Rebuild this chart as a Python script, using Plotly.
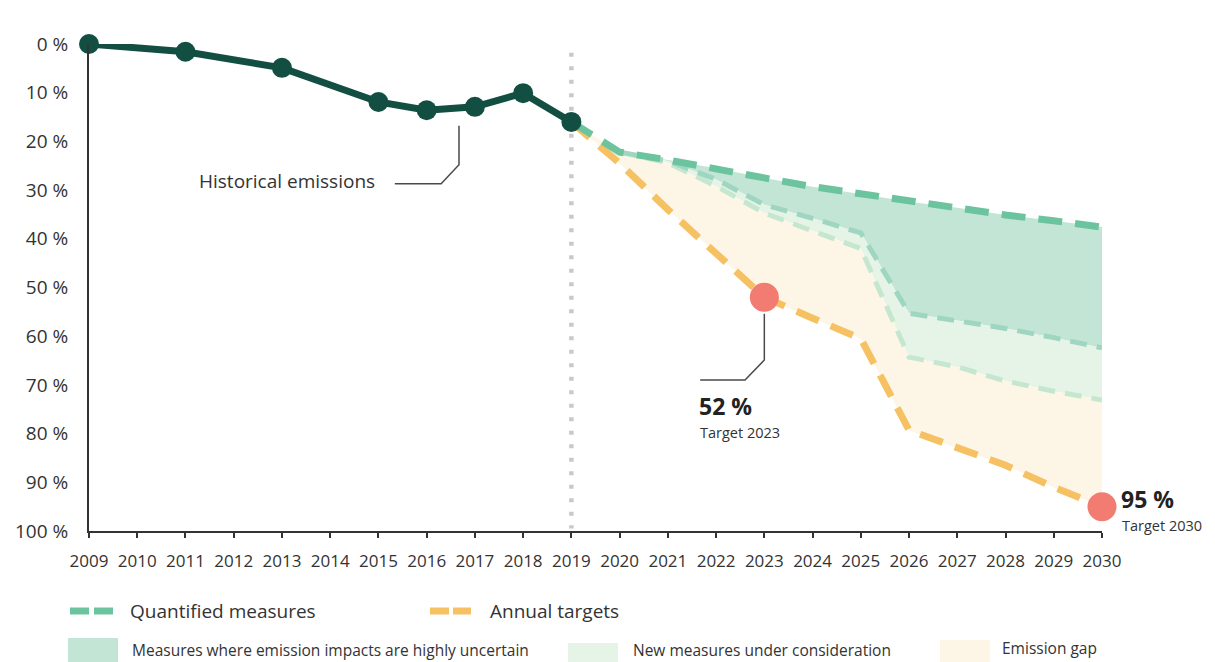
import plotly.graph_objects as go

# ---------------- data ----------------
hist_years = [2009, 2011, 2013, 2015, 2016, 2017, 2018, 2019]
hist_vals = [0, 1.6, 4.9, 11.9, 13.6, 12.9, 10.1, 16.0]

proj_years = [2019, 2020, 2021, 2022, 2023, 2024, 2025, 2026, 2027, 2028, 2029, 2030]
quantified = [16.0, 22.2, 23.8, 25.5, 27.5, 29.3, 30.8, 32.4, 33.6, 35.1, 36.3, 37.6]
uncertain = [16.0, 22.2, 24.0, 27.8, 33.0, 35.8, 38.8, 55.3, 56.8, 58.4, 60.3, 62.4]
new_measures = [16.0, 22.2, 24.4, 29.2, 34.7, 38.4, 42.0, 64.3, 66.3, 69.2, 71.3, 73.1]
annual_targets = [16.0, 24.5, 34.0, 43.0, 52.0, 56.3, 60.5, 79.3, 83.0, 86.5, 91.0, 95.0]

target_years = [2023, 2030]
target_vals = [52, 95]

x_ticks = list(range(2009, 2031))
y_ticks = list(range(0, 101, 10))
y_ticktext = [f"{v} %" for v in y_ticks]

# ---------------- style ----------------
FONT = "Open Sans"
TXT = "#333333"
C_HIST = "#124f42"
C_QUANT = "#6cc49e"
C_UNC_LINE = "#9fd6c1"
C_NEW_LINE = "#c6e7cf"
C_ANNUAL = "#f6c163"
C_FILL_UNC = "#c3e5d6"
C_FILL_NEW = "#e6f4e8"
C_FILL_GAP = "#fdf6e7"
C_TARGET = "#f27b72"

fig = go.Figure()

# fills (stacked with tonexty)
fig.add_trace(go.Scatter(x=proj_years, y=quantified, mode="lines",
                         line=dict(width=0, color=C_QUANT), showlegend=False, hoverinfo="skip"))
fig.add_trace(go.Scatter(x=proj_years, y=uncertain, mode="lines", fill="tonexty",
                         fillcolor=C_FILL_UNC, line=dict(width=0), showlegend=False, hoverinfo="skip"))
fig.add_trace(go.Scatter(x=proj_years, y=new_measures, mode="lines", fill="tonexty",
                         fillcolor=C_FILL_NEW, line=dict(width=0), showlegend=False, hoverinfo="skip"))
fig.add_trace(go.Scatter(x=proj_years, y=annual_targets, mode="lines", fill="tonexty",
                         fillcolor=C_FILL_GAP, line=dict(width=0), showlegend=False, hoverinfo="skip"))

# dashed lines
fig.add_trace(go.Scatter(x=proj_years[1:], y=new_measures[1:], mode="lines",
                         line=dict(color=C_NEW_LINE, width=5, dash="17px,10px"),
                         showlegend=False, cliponaxis=False))
fig.add_trace(go.Scatter(x=proj_years[1:], y=uncertain[1:], mode="lines",
                         line=dict(color=C_UNC_LINE, width=5, dash="17px,10px"),
                         showlegend=False, cliponaxis=False))
fig.add_trace(go.Scatter(x=proj_years, y=annual_targets, mode="lines",
                         line=dict(color=C_ANNUAL, width=7, dash="24px,13px"),
                         showlegend=False, cliponaxis=False))
fig.add_trace(go.Scatter(x=proj_years, y=quantified, mode="lines",
                         line=dict(color=C_QUANT, width=7, dash="24px,13px"),
                         showlegend=False, cliponaxis=False))

# historical
fig.add_trace(go.Scatter(x=hist_years, y=hist_vals, mode="lines+markers",
                         line=dict(color=C_HIST, width=7),
                         marker=dict(color=C_HIST, size=20),
                         showlegend=False, cliponaxis=False))

# targets
fig.add_trace(go.Scatter(x=target_years, y=target_vals, mode="markers",
                         marker=dict(color=C_TARGET, size=29),
                         showlegend=False, cliponaxis=False))

shapes = []
# vertical dotted line at 2019
shapes.append(dict(type="line", xref="x", yref="y", x0=2019, x1=2019, y0=-1, y1=99.5,
                   line=dict(color="#c9c9c9", width=4.5, dash="4px,9.5px"), layer="below"))

# connector lines
shapes.append(dict(type="path", xref="x", yref="y",
                   path="M 2015.34,28.7 L 2016.30,28.7 L 2016.67,24.8 L 2016.67,16.8",
                   line=dict(color="#4a4a4a", width=1.5)))
shapes.append(dict(type="path", xref="x", yref="y",
                   path="M 2023.0,55.4 L 2023.0,64.9 L 2022.6,69.0 L 2021.67,69.0",
                   line=dict(color="#4a4a4a", width=1.5)))


def px2paper_x(px):
    return (px - 89) / 1013


def px2paper_y(py):
    return (531 - py) / 487


# legend icons
for (a, b) in [(70, 89), (94, 113)]:
    shapes.append(dict(type="line", xref="paper", yref="paper",
                       x0=px2paper_x(a), x1=px2paper_x(b), y0=px2paper_y(611), y1=px2paper_y(611),
                       line=dict(color=C_QUANT, width=7)))
for (a, b) in [(430, 449), (453, 471)]:
    shapes.append(dict(type="line", xref="paper", yref="paper",
                       x0=px2paper_x(a), x1=px2paper_x(b), y0=px2paper_y(611), y1=px2paper_y(611),
                       line=dict(color=C_ANNUAL, width=7)))
for (a, b, t, col) in [(68, 118, 638, C_FILL_UNC), (568, 618, 643, C_FILL_NEW), (940, 990, 640, C_FILL_GAP)]:
    shapes.append(dict(type="rect", xref="paper", yref="paper",
                       x0=px2paper_x(a), x1=px2paper_x(b), y0=px2paper_y(664), y1=px2paper_y(t),
                       fillcolor=col, line=dict(width=0)))

annotations = []


def add_text(px, py, text, size, color=TXT, bold=False):
    annotations.append(dict(x=px2paper_x(px), y=px2paper_y(py), xref="paper", yref="paper",
                            text=f"<b>{text}</b>" if bold else text,
                            showarrow=False, xanchor="left", yanchor="middle",
                            font=dict(family=FONT, size=size, color=color)))


annotations.append(dict(x=2011.24, y=28.1, xref="x", yref="y", text="Historical emissions",
                        showarrow=False, xanchor="left", yanchor="middle",
                        font=dict(family=FONT, size=19, color=TXT)))

add_text(697, 406, "52 %", 23, "#222222", bold=True)
add_text(698, 432, "Target 2023", 14.5)
add_text(1119, 499, "95 %", 23, "#222222", bold=True)
add_text(1120, 525, "Target 2030", 14.5)

add_text(128, 611, "Quantified measures", 19)
add_text(488, 611, "Annual targets", 19)
add_text(130, 650, "Measures where emission impacts are highly uncertain", 15.5)
add_text(631, 650, "New measures under consideration", 15.5)
add_text(1000, 648, "Emission gap", 15.5)

fig.update_layout(
    width=1215, height=662,
    margin=dict(l=89, r=113, t=44, b=131),
    paper_bgcolor="white", plot_bgcolor="white",
    font=dict(family=FONT, color=TXT),
    showlegend=False,
    shapes=shapes,
    annotations=annotations,
    xaxis=dict(range=[2009, 2030], tickvals=x_ticks, ticktext=[str(v) for v in x_ticks],
               showgrid=False, zeroline=False, showline=True, linecolor="#333333", linewidth=2,
               ticks="outside", ticklen=5, tickwidth=1.5, tickcolor="#333333",
               tickfont=dict(family=FONT, size=17, color=TXT), ticklabelstandoff=9),
    yaxis=dict(range=[100, 0], tickvals=y_ticks, ticktext=y_ticktext,
               showgrid=False, zeroline=False, showline=True, linecolor="#333333", linewidth=2,
               ticks="", tickfont=dict(family=FONT, size=19, color=TXT), ticklabelstandoff=15),
)

fig.write_html("out.html")
